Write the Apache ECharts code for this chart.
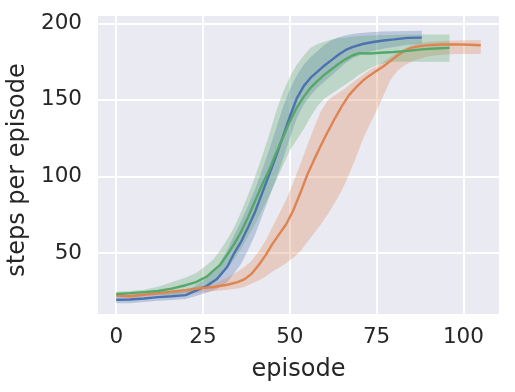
<!DOCTYPE html>
<html>
<head>
<meta charset="utf-8">
<script src="https://cdn.jsdelivr.net/npm/echarts@6/dist/echarts.min.js"></script>
<style>
html,body{margin:0;padding:0;background:#fff;}
#chart{width:515px;height:392px;}
</style>
</head>
<body>
<div id="chart"></div>
<script>
// ---- data ----
const xTicks = [0, 25, 50, 75, 100];
const yTicks = [50, 100, 150, 200];

const blueX = [0,4,8,12,16,20,23,26,29,32,34,36,38,40,42,44,46,48,50,52,54,56,58,60,62,64,66,68,71,74,77,80,84,88];
const blueMean = [19.5,19.7,20.3,21.2,21.8,22.5,25.5,28.5,33,41,50,57.5,67,77,89,101,113,126,139,151,159,164.5,168.5,172.5,176,179.5,182.5,184.5,186.5,187.8,188.8,189.5,190.5,190.7];
const blueUpper = [22,22.2,22.8,23.7,24.3,25,29,33.5,40,52,62,71,81,92,104,117,131,145,157,166,173,178,182,186,189,191,192,193,193.8,194.3,194.6,194.8,195,195.2];
const blueLower = [17.3,17.3,18,18.8,19.3,20,22,24,26.5,31,37,43,52,62,74,86,98,111,125,138,147,153,158,162,166,170,174,177,180,182,183.5,184.5,186,186.5];

const orangeX = [0,4,8,12,16,20,24,28,32,35,37,39,41,43,45,47,49,51,53,55,57,59,61,63,65,67,69,71,73,75,77,79,81,83,85,87,90,94,98,102,105];
const orangeMean = [22.2,21.8,22.8,23.8,24.8,25.8,27,27.8,29.3,31,33,36.5,42,48.5,56,62.5,69,78,89,101,111,120.5,129.5,138,146,153,158,162.5,166,169,172,175.5,179,182,184,185,185.8,186.2,186.3,186,185.7];
const orangeUpper = [23.5,23.5,24,25,25.5,26.5,28,29.5,34,38,41,45,51,58,67,76,85,96,108,120,132,143,150,153,156,159.5,163,166.5,169.5,172,175,178,181,183.5,185.5,187,188,188.5,188.8,189,189];
const orangeLower = [21,20.5,21.5,22.5,23,23.5,24.3,25,26,26.8,28,30,32,34.5,38,40.5,43.5,47,51,57,63,69,75.5,83,91,101,112,124,134,143,153,163,169,172.5,175,176.5,178.5,179.5,180,180,180];

const greenX = [0,4,8,12,16,20,23,26,28,30,32,34,36,38,40,42,44,46,48,50,52,54,56,58,60,62,64,66,68,70,73,76,80,84,88,92,96];
const greenMean = [23.3,23.8,24.5,25.2,26.8,29,31,34.5,38.5,42.5,49,56,64,73.5,84,94.5,104,115,125.5,136,145,152,158,162.5,166.5,170,173.5,176.5,179,180.5,180.3,180.8,181.3,182,183,183.6,184];
const greenUpper = [24.8,25.3,26,28,31,34,37,42,46,52,59,67,77,88,100,113,127,142,155,165,173,179,184,186.5,188,189.5,190.3,190.8,191.2,191.7,192,192.2,192.4,192.6,192.7,192.8,192.8];
const greenLower = [21.8,22.2,22.5,22.5,23,24,25,27.5,30,34,40,46,53,61,69,78,87,97,107,117,124,131,139,146,151,154,157,160,163,166.5,170.5,173.5,175,175,175,175,175];

// ---- build ----
const COLORS = {blue:'#4C72B0', orange:'#DD8452', green:'#55A868'};
const TEXT = '#262626';
const FONT = 'DejaVu Sans';

function rows(xs, a, b) { return xs.map((x, i) => b ? [x, a[i], b[i]] : [x, a[i]]); }

function bandSeries(name, xs, lo, hi, color) {
  const data = rows(xs, lo, hi);
  return {
    type: 'custom',
    name: name + ' band',
    data: data,
    encode: {x: 0, y: [1, 2]},
    silent: true,
    z: 1,
    renderItem: function (params, api) {
      if (params.dataIndex !== 0) return null;
      const pts = [];
      for (let i = 0; i < data.length; i++) pts.push(api.coord([data[i][0], data[i][2]]));
      for (let i = data.length - 1; i >= 0; i--) pts.push(api.coord([data[i][0], data[i][1]]));
      return {type: 'polygon', shape: {points: pts}, style: {fill: color, opacity: 0.3}};
    }
  };
}

function lineSeries(name, xs, ys, color) {
  return {
    type: 'line', name: name, data: rows(xs, ys), showSymbol: false, symbol: 'none',
    z: 3, lineStyle: {color: color, width: 2.4}, itemStyle: {color: color}
  };
}

const chart = echarts.init(document.getElementById('chart'), null, {renderer: 'canvas'});
chart.setOption({
  animation: false,
  backgroundColor: '#fff',
  grid: {left: 98, top: 16, width: 401, height: 298, show: true, backgroundColor: '#EAEAF2', borderWidth: 0,
         containLabel: false, outerBoundsMode: 'none'},
  xAxis: {
    type: 'value', min: -5.25, max: 110.25,
    axisLine: {show: false},
    axisTick: {show: false, customValues: xTicks},
    axisLabel: {customValues: xTicks, fontSize: 21.5, color: TEXT, fontFamily: FONT, margin: 12},
    splitLine: {show: true, lineStyle: {color: '#fff', width: 2}},
    name: 'episode', nameLocation: 'middle', nameGap: 44,
    nameTextStyle: {fontSize: 24, color: TEXT, fontFamily: FONT}
  },
  yAxis: {
    type: 'value', min: 10.2, max: 204.8,
    axisLine: {show: false},
    axisTick: {show: false, customValues: yTicks},
    axisLabel: {customValues: yTicks, fontSize: 21.5, color: TEXT, fontFamily: FONT, margin: 16},
    splitLine: {show: true, lineStyle: {color: '#fff', width: 2}},
    name: 'steps per episode', nameLocation: 'middle', nameGap: 59,
    nameTextStyle: {fontSize: 24, color: TEXT, fontFamily: FONT, padding: [0, 10, 0, 0]}
  },
  series: [
    bandSeries('blue', blueX, blueLower, blueUpper, COLORS.blue),
    bandSeries('orange', orangeX, orangeLower, orangeUpper, COLORS.orange),
    bandSeries('green', greenX, greenLower, greenUpper, COLORS.green),
    lineSeries('blue', blueX, blueMean, COLORS.blue),
    lineSeries('orange', orangeX, orangeMean, COLORS.orange),
    lineSeries('green', greenX, greenMean, COLORS.green)
  ]
});
</script>
</body>
</html>
